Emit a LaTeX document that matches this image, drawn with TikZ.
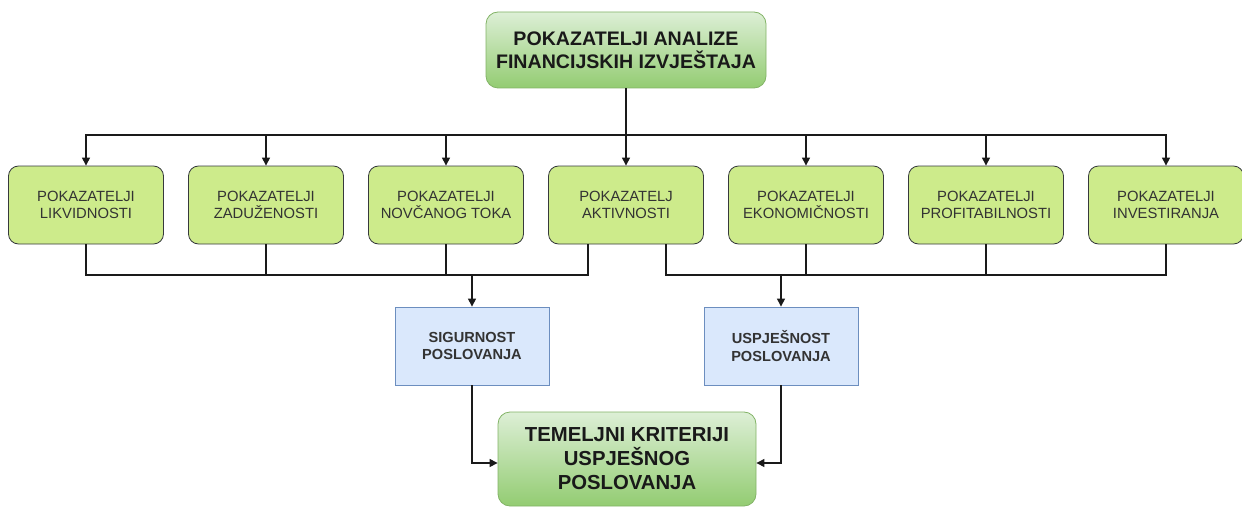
\documentclass[tikz,border=0pt]{standalone}
\usepackage{fontspec}
\setmainfont{Liberation Sans}
\usetikzlibrary{arrows.meta}
\definecolor{midfill}{HTML}{CDEB8B}
\definecolor{midline}{HTML}{36393D}
\definecolor{bluefill}{HTML}{DAE8FC}
\definecolor{blueline}{HTML}{6C8EBF}
\definecolor{gtop}{HTML}{DDEFD6}
\definecolor{gbot}{HTML}{93CC72}
\definecolor{gline}{HTML}{82B366}
\definecolor{wire}{HTML}{1A1A1A}
\tikzset{
  midbox/.style={draw=midline, line width=0.8pt, fill=midfill, rounded corners=10pt,
    minimum width=155pt, minimum height=78pt, align=center, inner sep=0pt,
    font=\fontsize{14.8}{17.5}\selectfont, text=black!80},
  bigbox/.style={draw=gline, line width=0.8pt, top color=gtop, bottom color=gbot,
    rounded corners=12pt, align=center, inner sep=0pt, font=\bfseries, text=black!90},
  bluebox/.style={draw=blueline, line width=0.8pt, fill=bluefill,
    minimum width=154pt, minimum height=78pt, align=center, inner sep=0pt,
    font=\bfseries\fontsize{14.6}{17.5}\selectfont, text=black!80},
  wirel/.style={draw=wire, line width=1.1pt},
  arr/.style={wirel, -{Triangle[length=8pt,width=8pt]}}
}
\begin{document}
\begin{tikzpicture}[x=1pt,y=-1pt]
\useasboundingbox (0,0) rectangle (1242,508);
\node[bigbox, minimum width=280pt, minimum height=76pt,
  font=\bfseries\fontsize{19.6}{23}\selectfont] (top) at (626,50)
  {POKAZATELJI ANALIZE\\FINANCIJSKIH IZVJEŠTAJA};
\node[midbox] (m1) at (86,205) {POKAZATELJI\\LIKVIDNOSTI};
\node[midbox] (m2) at (266,205) {POKAZATELJI\\ZADUŽENOSTI};
\node[midbox] (m3) at (446,205) {POKAZATELJI\\NOVČANOG TOKA};
\node[midbox] (m4) at (626,205) {POKAZATELJ\\AKTIVNOSTI};
\node[midbox] (m5) at (806,205) {POKAZATELJI\\EKONOMIČNOSTI};
\node[midbox] (m6) at (986,205) {POKAZATELJI\\PROFITABILNOSTI};
\node[midbox] (m7) at (1166,205) {POKAZATELJI\\INVESTIRANJA};
\node[bluebox] (sig) at (472,346) {SIGURNOST\\POSLOVANJA};
\node[bluebox] (usp) at (781,346) {USPJEŠNOST\\POSLOVANJA};
\node[bigbox, minimum width=258pt, minimum height=94pt,
  font=\bfseries\fontsize{20.3}{24}\selectfont] (crit) at (627,459)
  {TEMELJNI KRITERIJI\\USPJEŠNOG\\POSLOVANJA};
% top bus
\coordinate (tb) at (626,135);
\draw[wirel] (top.south) -- (tb);
\foreach \m in {m1,m2,m3,m4,m5,m6,m7}{
  \draw[arr] (tb) -| (\m.north);
}
% left bus
\coordinate (lb) at (472,275);
\coordinate (rb) at (781,275);
\draw[wirel] (m1.south) |- (lb);
\draw[wirel] (m2.south) |- (lb);
\draw[wirel] (m3.south) |- (lb);
\draw[wirel] ([xshift=-38pt]m4.south) |- (lb);
\draw[arr] (lb) -- (sig.north);
% right bus
\draw[wirel] ([xshift=40pt]m4.south) |- (rb);
\draw[wirel] (m5.south) |- (rb);
\draw[wirel] (m6.south) |- (rb);
\draw[wirel] (m7.south) |- (rb);
\draw[arr] (rb) -- (usp.north);
% to criteria
\draw[arr] (sig.south) |- ([yshift=-4pt]crit.west);
\draw[arr] (usp.south) |- ([yshift=-4pt]crit.east);
\end{tikzpicture}
\end{document}
